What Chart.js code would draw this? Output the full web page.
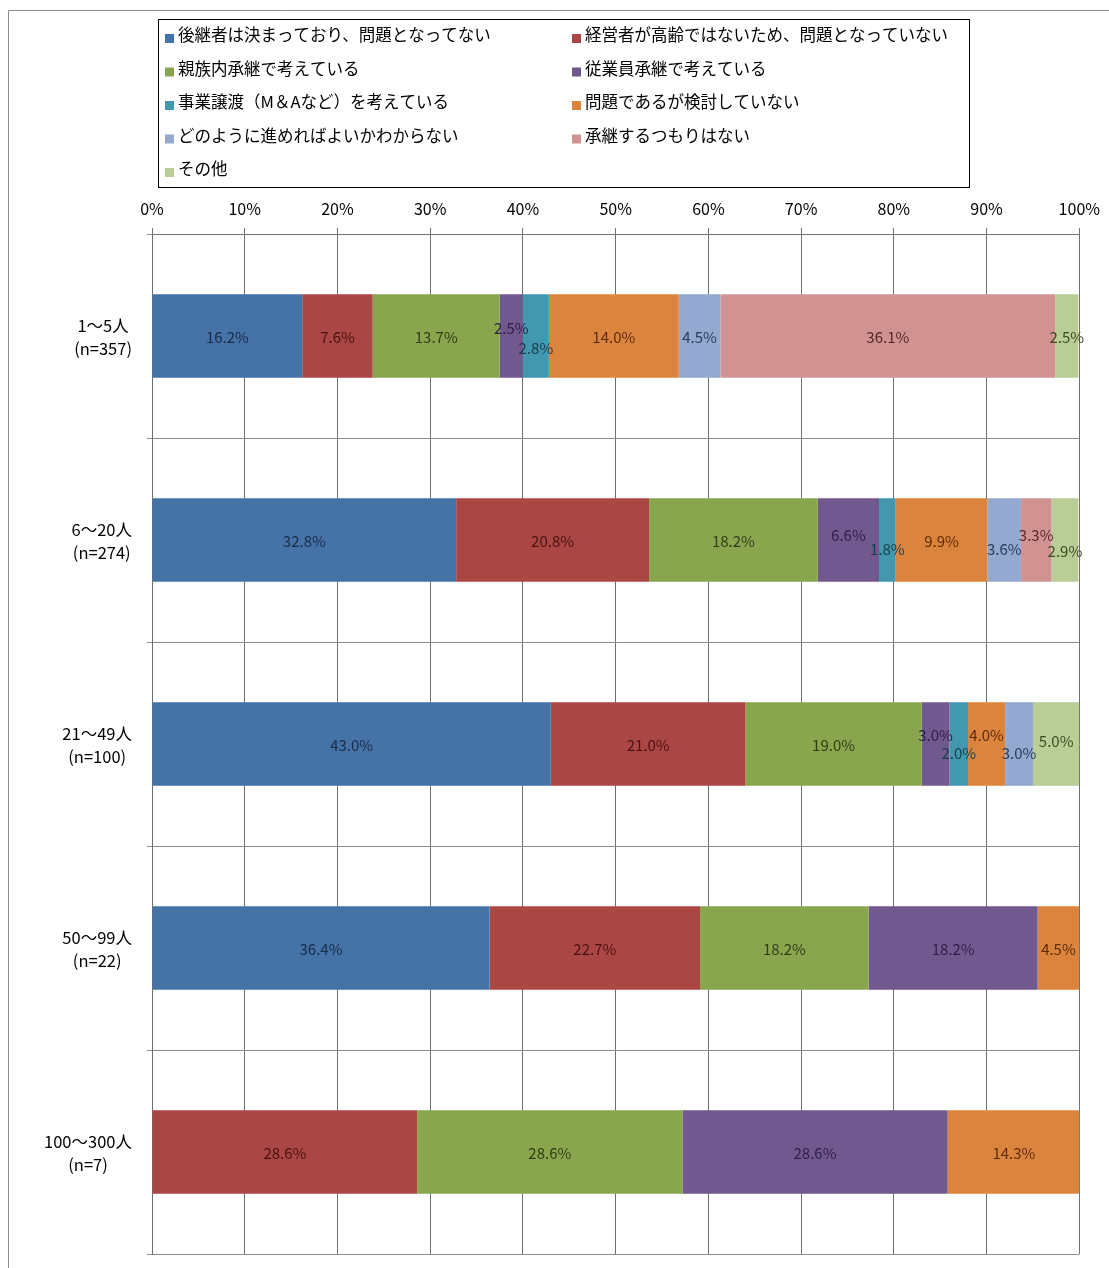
<!DOCTYPE html>
<html>
<head>
<meta charset="utf-8">
<script src="https://cdn.jsdelivr.net/npm/chart.js@4.4.1/dist/chart.umd.min.js"></script>
<style>
  body { margin: 0; background: #fff; }
  #wrap { width: 1109px; height: 1268px; }
</style>
</head>
<body>
<div id="wrap"><canvas id="chart" width="1109" height="1268"></canvas></div>
<script>
// categories (employee size)
const categories = [
  ['1〜5人', '(n=357)'],
  ['6〜20人', '(n=274)'],
  ['21〜49人', '(n=100)'],
  ['50〜99人', '(n=22)'],
  ['100〜300人', '(n=7)']
];

const seriesNames = [
  '後継者は決まっており、問題となってない',
  '経営者が高齢ではないため、問題となっていない',
  '親族内承継で考えている',
  '従業員承継で考えている',
  '事業譲渡（M＆Aなど）を考えている',
  '問題であるが検討していない',
  'どのように進めればよいかわからない',
  '承継するつもりはない',
  'その他'
];

// values in %, one array per answer, in category order
const decided     = [16.2, 32.8, 43.0, 36.4, 0];
const notOld      = [7.6, 20.8, 21.0, 22.7, 28.6];
const family      = [13.7, 18.2, 19.0, 18.2, 28.6];
const employee    = [2.5, 6.6, 3.0, 18.2, 28.6];
const mna         = [2.8, 1.8, 2.0, 0, 0];
const notExamined = [14.0, 9.9, 4.0, 4.5, 14.3];
const dontKnow    = [4.5, 3.6, 3.0, 0, 0];
const noIntention = [36.1, 3.3, 0, 0, 0];
const other       = [2.5, 2.9, 5.0, 0, 0];

const tickValues = [0, 10, 20, 30, 40, 50, 60, 70, 80, 90, 100];

const seriesData = [decided, notOld, family, employee, mna, notExamined, dontKnow, noIntention, other];
const colors = ['#4572A7', '#AA4643', '#89A54E', '#71588F', '#4198AF', '#DB843D', '#93A9CF', '#D19392', '#B9CD96'];
const labelColors = ['#182c48', '#4a1210', '#2f3f15', '#2e1f45', '#17404c', '#5e2b08', '#2a3c5c', '#562826', '#3d4b24'];

// little vertical nudges for crowded labels: [row, dataset, dy]
const labelNudge = [
  [0, 3, -9], [0, 4, 11],
  [1, 3, -6], [1, 4, 8], [1, 6, 8], [1, 7, -6], [1, 8, 10],
  [2, 3, -10], [2, 4, 8], [2, 5, -10], [2, 6, 8], [2, 8, -4]
];

const FONT = "'Noto Sans CJK JP', 'Noto Sans', sans-serif";

const framePlugin = {
  id: 'frame',
  beforeDraw(chart) {
    const c = chart.ctx;
    c.save();
    c.fillStyle = '#fff';
    c.fillRect(0, 0, chart.width, chart.height);
    c.strokeStyle = '#8c8c8c';
    c.lineWidth = 1;
    c.beginPath();
    c.moveTo(8.5, chart.height);
    c.lineTo(8.5, 10.5);
    c.lineTo(chart.width, 10.5);
    c.stroke();
    c.restore();
  }
};

const legendPlugin = {
  id: 'boxLegend',
  afterDraw(chart) {
    const c = chart.ctx;
    c.save();
    c.strokeStyle = '#000';
    c.lineWidth = 1;
    c.strokeRect(158.5, 19.5, 811, 168);
    c.font = '16.5px ' + FONT;
    c.textBaseline = 'middle';
    chart.data.datasets.forEach((ds, i) => {
      const col = i % 2, row = Math.floor(i / 2);
      const x = col === 0 ? 165 : 572;
      const y = 35 + row * 33.5;
      c.fillStyle = ds.backgroundColor;
      c.fillRect(x, y - 1, 9, 9);
      c.fillStyle = '#000';
      c.fillText(ds.label, x + 13, y);
    });
    c.restore();
  }
};

const yLabelPlugin = {
  id: 'yLabels',
  afterDraw(chart) {
    const c = chart.ctx;
    const ys = chart.scales.y;
    c.save();
    c.font = '16.5px ' + FONT;
    c.fillStyle = '#000';
    c.textAlign = 'center';
    c.textBaseline = 'middle';
    chart.data.labels.forEach((lines, i) => {
      const yc = ys.getPixelForTick(i) + 1;
      const w = Math.max(...lines.map(t => c.measureText(t).width));
      const xc = 132 - w / 2;
      lines.forEach((t, k) => {
        c.fillText(t, xc, yc - 11.5 + k * 23);
      });
    });
    c.restore();
  }
};

const valueLabelPlugin = {
  id: 'valueLabels',
  afterDatasetsDraw(chart) {
    const c = chart.ctx;
    c.save();
    c.font = '15px ' + FONT;
    c.textAlign = 'center';
    c.textBaseline = 'middle';
    chart.data.datasets.forEach((ds, di) => {
      const meta = chart.getDatasetMeta(di);
      meta.data.forEach((bar, ri) => {
        const v = ds.data[ri];
        if (!v) return;
        const p = bar.getCenterPoint();
        const n = labelNudge.find(a => a[0] === ri && a[1] === di);
        c.fillStyle = labelColors[di];
        c.fillText(v.toFixed(1) + '%', p.x, p.y + 1 + (n ? n[2] : 0));
      });
    });
    c.restore();
  }
};

const ctx = document.getElementById('chart').getContext('2d');
const myChart = new Chart(ctx, {
  type: 'bar',
  data: {
    labels: categories,
    datasets: seriesData.map((d, i) => ({
      label: seriesNames[i],
      data: d,
      backgroundColor: colors[i],
      borderWidth: 0,
      categoryPercentage: 0.41,
      barPercentage: 1
    }))
  },
  options: {
    indexAxis: 'y',
    responsive: false,
    animation: false,
    layout: { padding: { left: 0, right: 29, top: 190, bottom: 14 } },
    plugins: {
      legend: { display: false },
      tooltip: { enabled: false }
    },
    scales: {
      x: {
        position: 'top',
        stacked: true,
        min: 0,
        max: 100,
        afterBuildTicks: s => { s.ticks = tickValues.map(v => ({ value: v })); },
        afterFit: s => { s.height = 44; },
        ticks: {
          callback: v => v + '%',
          font: { family: FONT, size: 16 },
          color: '#000',
          padding: 9,
          maxRotation: 0
        },
        grid: { color: '#707070', tickLength: 6, lineWidth: 1 },
        border: { color: '#707070' }
      },
      y: {
        stacked: true,
        afterFit: s => { s.width = 152; },
        ticks: { display: false },
        grid: { color: '#8c8c8c', tickLength: 5, offset: true },
        border: { color: '#707070' }
      }
    }
  },
  plugins: [framePlugin, legendPlugin, yLabelPlugin, valueLabelPlugin]
});
</script>
</body>
</html>
